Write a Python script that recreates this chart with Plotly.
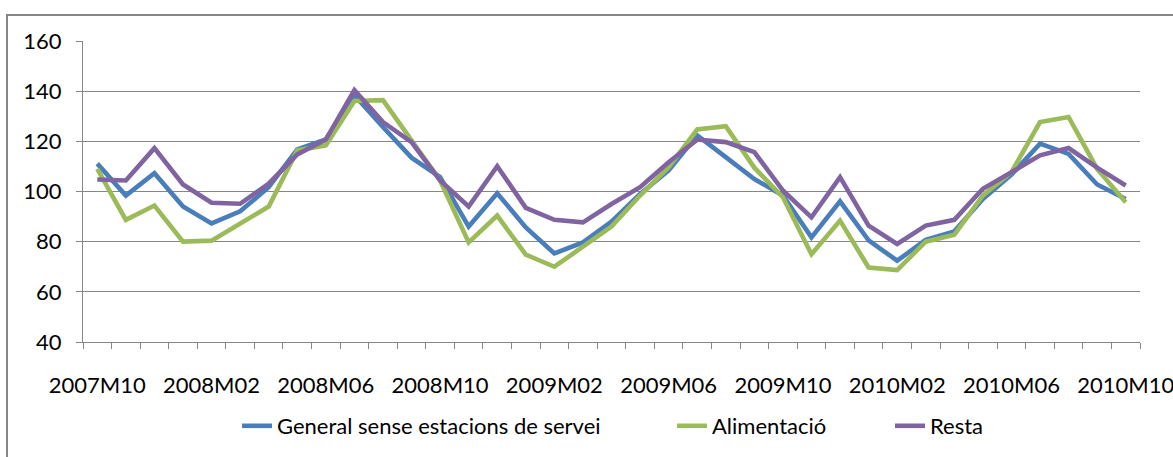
import plotly.graph_objects as go

months = ["2007M10", "2007M11", "2007M12",
          "2008M01", "2008M02", "2008M03", "2008M04", "2008M05", "2008M06",
          "2008M07", "2008M08", "2008M09", "2008M10", "2008M11", "2008M12",
          "2009M01", "2009M02", "2009M03", "2009M04", "2009M05", "2009M06",
          "2009M07", "2009M08", "2009M09", "2009M10", "2009M11", "2009M12",
          "2010M01", "2010M02", "2010M03", "2010M04", "2010M05", "2010M06",
          "2010M07", "2010M08", "2010M09", "2010M10"]

shown_labels = ["2007M10", "2008M02", "2008M06", "2008M10", "2009M02",
                "2009M06", "2009M10", "2010M02", "2010M06", "2010M10"]

general = [111.1, 98.4, 107.3, 94.0, 87.3, 92.1, 101.7, 116.8, 120.8, 138.4,
           125.7, 113.5, 105.7, 86.0, 99.3, 85.7, 75.3, 79.7, 88.0, 99.0,
           108.4, 122.4, 113.7, 105.0, 98.4, 81.7, 96.1, 80.5, 72.4, 80.7,
           84.1, 97.0, 106.7, 119.1, 115.0, 102.8, 97.0]

alimentacio = [109.0, 88.7, 94.4, 80.0, 80.4, 87.0, 94.0, 116.4, 118.4, 136.1,
               136.4, 120.4, 104.4, 79.7, 90.4, 74.8, 70.0, 78.0, 86.0, 98.4,
               109.7, 124.7, 126.0, 109.5, 97.7, 75.0, 88.4, 69.7, 68.7, 80.0,
               82.8, 98.4, 107.7, 127.7, 129.7, 109.0, 95.7]

resta = [104.8, 104.4, 117.3, 102.8, 95.5, 95.1, 103.1, 114.8, 120.7, 140.4,
         127.7, 119.7, 104.4, 94.0, 110.1, 93.5, 88.7, 87.7, 95.0, 101.7,
         111.7, 120.7, 119.7, 115.7, 100.4, 89.7, 105.7, 86.4, 79.1, 86.4,
         88.7, 101.1, 107.7, 114.4, 117.3, 109.5, 102.4]

series_names = ["General sense estacions de servei", "Alimentació", "Resta"]
series_colors = ["#4A7EBB", "#9BBB59", "#8064A2"]
legend_text_px = [277, 712, 930]   # left edge of each legend text (px)

W, H = 1173, 457
ML, MR, MT, MB = 83, 33, 41, 115
PW, PH = W - ML - MR, H - MT - MB
FS = 22

fig = go.Figure()
legend_ids = ["legend", "legend2", "legend3"]
for name, vals, col, lid in zip(series_names, [general, alimentacio, resta],
                                series_colors, legend_ids):
    fig.add_trace(go.Scatter(x=months, y=vals, mode="lines", name=name,
                             legend=lid, line=dict(color=col, width=4.6)))

legend_common = dict(orientation="h", xanchor="left", yanchor="middle",
                     y=(MT + PH - 426) / PH, font=dict(size=FS),
                     bgcolor="rgba(0,0,0,0)", borderwidth=0)

ticktext = [m if m in shown_labels else "" for m in months]
grid = "#868686"

fig.update_layout(
    width=W, height=H,
    margin=dict(l=ML, r=MR, t=MT, b=MB, pad=0, autoexpand=False),
    paper_bgcolor="white", plot_bgcolor="white",
    font=dict(family="Lato, Open Sans, sans-serif", size=FS, color="black"),
    showlegend=True,
    legend=dict(x=(legend_text_px[0] - 40 - ML) / PW, **legend_common),
    legend2=dict(x=(legend_text_px[1] - 40 - ML) / PW, **legend_common),
    legend3=dict(x=(legend_text_px[2] - 40 - ML) / PW, **legend_common),
    xaxis=dict(type="category", categoryorder="array", categoryarray=months,
               tickmode="array", tickvals=months, ticktext=ticktext,
               tickson="boundaries", ticks="outside", ticklen=6,
               tickcolor=grid, tickwidth=1, showgrid=False,
               showline=True, linecolor=grid, linewidth=1,
               ticklabelstandoff=24, tickangle=0, automargin=False,
               range=[-0.5, len(months) - 0.5], fixedrange=True),
    yaxis=dict(range=[40, 160], dtick=20, tick0=40, showgrid=True,
               gridcolor=grid, gridwidth=1, zeroline=False,
               showline=True, linecolor=grid, linewidth=1,
               ticks="outside", ticklen=6, tickcolor=grid,
               ticklabelstandoff=10, automargin=False),
)

# outer chart-area border (extends beyond the image at right/bottom)
fig.add_shape(type="rect", xref="paper", yref="paper",
              x0=(7 - ML) / PW, x1=(W + 10 - ML) / PW,
              y0=(MT + PH - (H + 10)) / PH, y1=1 + (MT - 15) / PH,
              line=dict(color=grid, width=2), fillcolor="rgba(0,0,0,0)",
              layer="below")

fig.write_html("out.html", config={"displayModeBar": False},
               post_script="document.body.style.margin='0';")
